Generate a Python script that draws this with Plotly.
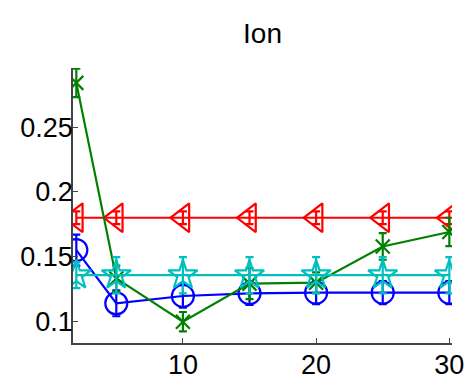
import plotly.graph_objects as go

x = [2, 5, 10, 15, 20, 25, 30]
red_y = [0.18, 0.18, 0.18, 0.18, 0.18, 0.18, 0.18]
red_e = [0.005, 0.005, 0.005, 0.005, 0.005, 0.005, 0.005]
blue_y = [0.155, 0.1137, 0.1194, 0.1215, 0.122, 0.122, 0.122]
blue_e = [0.012, 0.01, 0.009, 0.009, 0.009, 0.009, 0.009]
green_y = [0.2845, 0.133, 0.0995, 0.129, 0.1297, 0.1578, 0.169]
green_e = [0.011, 0.01, 0.0075, 0.012, 0.008, 0.0103, 0.011]
cyan_y = [0.1355, 0.1355, 0.1355, 0.1355, 0.1355, 0.1355, 0.1355]
cyan_e = [0.01, 0.014, 0.014, 0.014, 0.014, 0.014, 0.014]

fig = go.Figure()

def add(y, e, color, symbol, size):
    fig.add_trace(go.Scatter(
        x=x, y=y, mode="lines+markers",
        line=dict(color=color, width=2.2),
        marker=dict(symbol=symbol, size=size, color=color,
                    line=dict(color=color, width=2.2)),
        error_y=dict(type="data", array=e, visible=True, color=color,
                     thickness=2.2, width=4),
        showlegend=False))

add(red_y, red_e, "#ff0000", "triangle-left-open", 25)
add(blue_y, blue_e, "#0000ff", "circle-open", 22)
add(green_y, green_e, "#008000", "x-thin-open", 14)
add(cyan_y, cyan_e, "#00bfbf", "star-open", 22)

fig.update_layout(
    width=468, height=376,
    margin=dict(l=73, r=16, t=68, b=33),
    paper_bgcolor="white", plot_bgcolor="white",
    font=dict(family="Liberation Sans, Arial, sans-serif", size=27, color="black"),
    title=dict(text="Ion", x=0.5, xanchor="center", xref="paper",
               y=1 - 33 / 376, yanchor="middle",
               font=dict(size=28, color="black")),
    xaxis=dict(range=[1.75, 30.2], tickvals=[10, 20, 30],
               showgrid=False, zeroline=False, showline=True,
               linecolor="#444", linewidth=1.5, ticks="inside",
               ticklen=5, tickcolor="#444", mirror=False, automargin=False,
               ticklabelstandoff=-3),
    yaxis=dict(range=[0.083, 0.296], tickvals=[0.1, 0.15, 0.2, 0.25],
               ticktext=["0.1", "0.15", "0.2", "0.25"],
               showgrid=False, zeroline=False, showline=True,
               linecolor="#444", linewidth=1.5, ticks="inside",
               ticklen=5, tickcolor="#444", mirror=False, automargin=False,
               ticklabelstandoff=-7),
)

fig.write_html("out.html")
